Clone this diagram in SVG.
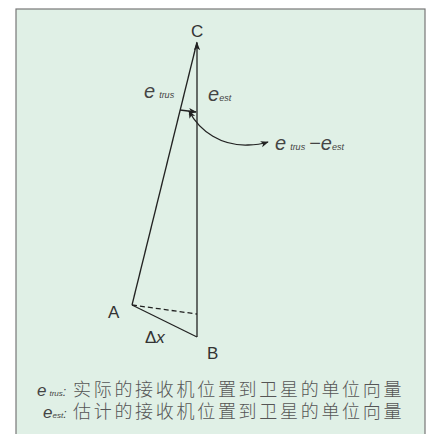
<svg xmlns="http://www.w3.org/2000/svg" width="428" height="434" viewBox="0 0 428 434">
<defs>
<style>
.ln{stroke:#222;stroke-width:1.3;fill:none}
.lab{font-family:"Liberation Sans",Arial,sans-serif;fill:#333;font-size:17px}
.m{font-family:"Liberation Sans",Arial,sans-serif;fill:#444;font-style:italic}
.cn{font-family:"Noto Sans CJK SC","Liberation Sans",sans-serif;fill:#555;font-size:18px;font-weight:300;letter-spacing:2.7px}
</style>
<marker id="ah" viewBox="0 0 10 10" refX="9" refY="5" markerWidth="8" markerHeight="8" markerUnits="userSpaceOnUse" orient="auto-start-reverse">
<path d="M0,1 L10,5 L0,9 L2.5,5 Z" fill="#222"/>
</marker>
</defs>
<rect x="0" y="0" width="428" height="434" fill="#fff"/>
<rect x="16" y="9" width="409" height="440" fill="#e0f0e6" stroke="#777" stroke-width="1.2"/>
<g id="connectors">
<line class="ln" x1="197" y1="337" x2="197" y2="43" marker-end="url(#ah)"/>
<line class="ln" x1="132" y1="305" x2="197" y2="42"/>
<line class="ln" x1="132" y1="305" x2="197" y2="337"/>
<line class="ln" x1="132" y1="305" x2="197" y2="314" stroke-dasharray="5,3"/>
<line class="ln" x1="180" y1="110" x2="196" y2="112" marker-end="url(#ah)"/>
<path class="ln" d="M189,111 C200,132 222,146 248,145 C256,145 262,144 268,142" marker-start="url(#ah)" marker-end="url(#ah)"/>
</g>
<g id="C"><text class="lab" x="191" y="37">C</text></g>
<g id="A"><text class="lab" x="108" y="318">A</text></g>
<g id="B"><text class="lab" x="207" y="359">B</text></g>
<g id="dx"><text class="lab" x="145" y="343">Δ<tspan font-style="italic">x</tspan></text></g>
<g id="etrus"><text class="m" x="144" y="98"><tspan font-size="20">e</tspan><tspan font-size="9" dx="4">trus</tspan></text></g>
<g id="eest"><text class="m" x="208" y="101"><tspan font-size="20">e</tspan><tspan font-size="9">est</tspan></text></g>
<g id="diff"><text class="m" x="275" y="150"><tspan font-size="20">e</tspan><tspan font-size="9" dx="4">trus</tspan><tspan font-size="20" font-style="normal" dx="4">−</tspan><tspan font-size="20">e</tspan><tspan font-size="9">est</tspan></text></g>
<g id="legend">
<text x="37" y="396"><tspan class="m" font-size="17">e</tspan><tspan class="m" font-size="8" dx="3">trus</tspan><tspan class="m" font-size="12" font-style="normal">:</tspan><tspan class="cn" x="73">实际的接收机位置到卫星的单位向量</tspan></text>
<text x="43" y="418"><tspan class="m" font-size="17">e</tspan><tspan class="m" font-size="8">est</tspan><tspan class="m" font-size="12" font-style="normal">:</tspan><tspan class="cn" x="73">估计的接收机位置到卫星的单位向量</tspan></text>
</g>
</svg>
